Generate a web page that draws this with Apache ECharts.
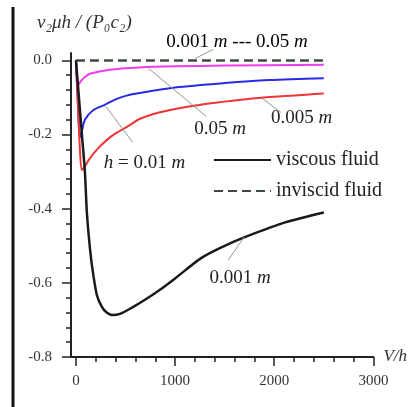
<!DOCTYPE html>
<html>
<head>
<meta charset="utf-8">
<script src="https://cdn.jsdelivr.net/npm/echarts@6/dist/echarts.min.js"></script>
<style>
  html, body { margin: 0; padding: 0; background: #fff; }
  #chart { width: 410px; height: 407px; }
</style>
</head>
<body>
<div id="chart"></div>
<script>
// V/h, value pairs
const viscous001 = [[0, 0], [30, -0.1], [60, -0.2], [90, -0.3], [110, -0.41], [135, -0.49], [160, -0.55], [210, -0.632], [260, -0.664], [310, -0.68], [370, -0.687], [450, -0.683], [570, -0.666], [700, -0.645], [840, -0.62], [1000, -0.588], [1270, -0.532], [1500, -0.5], [1710, -0.476], [2110, -0.437], [2500, -0.41]];
const viscous0005 = [[0, 0], [20, -0.12], [40, -0.24], [60, -0.296], [90, -0.285], [140, -0.264], [220, -0.238], [310, -0.215], [400, -0.197], [540, -0.175], [640, -0.158], [800, -0.143], [1000, -0.131], [1240, -0.12], [1600, -0.108], [1950, -0.099], [2500, -0.089]];
const viscous001b = [[0, 0], [20, -0.12], [40, -0.207], [60, -0.19], [90, -0.16], [170, -0.135], [290, -0.12], [400, -0.105], [510, -0.095], [640, -0.088], [1000, -0.073], [1500, -0.061], [1950, -0.053], [2500, -0.048]];
const viscous005 = [[0, 0], [10, -0.04], [25, -0.065], [50, -0.056], [90, -0.045], [140, -0.036], [340, -0.025], [640, -0.019], [1000, -0.016], [1500, -0.014], [2500, -0.012]];
const inviscid = [[0, 0], [2500, 0]];

const xTicks = [0, 1000, 2000, 3000];
const xMinorTicks = [0, 200, 400, 600, 800, 1000, 1200, 1400, 1600, 1800, 2000, 2200, 2400, 2600, 2800, 3000];
const yTicks = [-0.8, -0.6, -0.4, -0.2, 0];
const yMinorTicks = [-0.8, -0.76, -0.72, -0.68, -0.64, -0.6, -0.56, -0.52, -0.48, -0.44, -0.4, -0.36, -0.32, -0.28, -0.24, -0.2, -0.16, -0.12, -0.08, -0.04, 0];

// 注释文字: [V/h, value, text]
const noteLabels = [
  [1454, -0.186, '{n|0.05 }{i|m}'],
  [2277, -0.156, '{n|0.005 }{i|m}'],
  [692, -0.277, '{i|h}{n| = 0.01 }{i|m}'],
  [1655, -0.587, '{n|0.001 }{i|m}']
];
// 引线: [from, to]
const noteLines = [
  [[732, -0.0215], [1314, -0.151]],
  [[1876, -0.102], [2066, -0.140]],
  [[301, -0.124], [572, -0.221]],
  [[1695, -0.477], [1535, -0.539]]
];
// 图上方的注释 (超出 y 轴范围)
const topLabel = [1625, 0.0485, '{n|0.001 }{i|m}{n| --- 0.05 }{i|m}'];
const topLine = [[1384, 0.0296], [1204, 0.0054]];

const serif = '"Liberation Serif", "DejaVu Serif", serif';
const axisColor = '#222';
const noteRich = {
  n: { fontFamily: serif, fontSize: 19, color: '#222' },
  i: { fontFamily: serif, fontSize: 19, fontStyle: 'italic', color: '#222' }
};

const chart = echarts.init(document.getElementById('chart'));

const option = {
  animation: false,
  grid: { left: 71, right: 35, top: 53, bottom: 50 },
  legend: {
    data: ['viscous fluid', 'inviscid fluid'],
    orient: 'vertical',
    left: 213,
    top: 150,
    padding: 0,
    itemWidth: 57,
    itemHeight: 12,
    itemGap: 11,
    itemStyle: { opacity: 0 },
    textStyle: { fontFamily: serif, fontSize: 20, lineHeight: 20, color: '#222' }
  },
  xAxis: [
    {
      type: 'value',
      min: -50,
      max: 3000,
      name: 'V/h',
      nameLocation: 'end',
      nameGap: 10,
      nameTextStyle: { fontFamily: serif, fontStyle: 'italic', fontSize: 17, color: '#333' },
      splitLine: { show: false },
      axisLine: { onZero: false, lineStyle: { color: axisColor, width: 2 } },
      axisTick: { customValues: xTicks, length: 9, lineStyle: { color: axisColor, width: 1.5 } },
      axisLabel: { customValues: xTicks, margin: 17, fontFamily: serif, fontSize: 15, color: '#333', formatter: v => String(v) }
    },
    {
      type: 'value',
      min: -50,
      max: 3000,
      position: 'bottom',
      splitLine: { show: false },
      axisLine: { show: false, onZero: false },
      axisTick: { customValues: xMinorTicks, length: 5, lineStyle: { color: axisColor, width: 1.5 } },
      axisLabel: { show: false }
    }
  ],
  yAxis: [
    {
      type: 'value',
      min: -0.8,
      max: 0.02,
      splitLine: { show: false },
      axisLine: { show: true, onZero: false, lineStyle: { color: axisColor, width: 2 } },
      axisTick: { show: true, customValues: yTicks, length: 9, lineStyle: { color: axisColor, width: 1.5 } },
      axisLabel: {
        customValues: yTicks,
        margin: 19,
        fontFamily: serif,
        fontSize: 15,
        color: '#333',
        formatter: v => v.toFixed(1)
      }
    },
    {
      type: 'value',
      min: -0.8,
      max: 0.02,
      position: 'left',
      splitLine: { show: false },
      axisLine: { show: false, onZero: false },
      axisTick: { show: true, customValues: yMinorTicks, length: 5, lineStyle: { color: axisColor, width: 1.5 } },
      axisLabel: { show: false }
    }
  ],
  series: [
    {
      name: 'inviscid fluid',
      type: 'line',
      data: inviscid,
      symbol: 'none',
      lineStyle: { color: '#3f4a3f', width: 2.5, type: [9, 5] },
      itemStyle: { color: '#3f4a3f' },
      z: 3
    },
    {
      name: '0.05 m',
      type: 'line',
      data: viscous005,
      symbol: 'none',
      smooth: 0.3,
      lineStyle: { color: '#ee3cee', width: 2 }
    },
    {
      name: '0.01 m',
      type: 'line',
      data: viscous001b,
      symbol: 'none',
      smooth: 0.3,
      lineStyle: { color: '#2a2ae6', width: 2 }
    },
    {
      name: '0.005 m',
      type: 'line',
      data: viscous0005,
      symbol: 'none',
      smooth: 0.3,
      lineStyle: { color: '#ee3434', width: 2 }
    },
    {
      name: 'viscous fluid',
      type: 'line',
      data: viscous001,
      symbol: 'none',
      smooth: 0.3,
      lineStyle: { color: '#1a1a1a', width: 2.5 },
      itemStyle: { color: '#1a1a1a' },
      z: 4
    },
    {
      name: 'notes',
      type: 'line',
      data: [],
      clip: false,
      silent: true,
      markLine: {
        symbol: 'none',
        silent: true,
        animation: false,
        label: { show: false },
        lineStyle: { color: '#8c9a84', width: 1, type: 'solid' },
        data: noteLines.map(p => [{ coord: p[0] }, { coord: p[1] }])
      },
      markPoint: {
        symbol: 'circle',
        symbolSize: 0,
        silent: true,
        animation: false,
        label: {
          show: true,
          position: 'inside',
          formatter: p => p.data.text,
          rich: noteRich
        },
        data: noteLabels.map(d => ({ coord: [d[0], d[1]], text: d[2] }))
      }
    }
  ]
};

chart.setOption(option);

// 轴外的元素: 左边框, y 轴标题, 顶部注释
const tl0 = chart.convertToPixel({ gridIndex: 0 }, topLine[0]);
const tl1 = chart.convertToPixel({ gridIndex: 0 }, topLine[1]);
const tp = chart.convertToPixel({ gridIndex: 0 }, [topLabel[0], topLabel[1]]);

chart.setOption({
  graphic: [
    {
      type: 'line',
      shape: { x1: 13, y1: 7, x2: 13, y2: 407 },
      style: { stroke: '#111', lineWidth: 3 }
    },
    {
      type: 'text',
      left: 37,
      top: 13,
      style: {
        text: 'v₂μh / (P₀c₂)',
        font: 'italic 19px ' + serif,
        fill: '#333'
      }
    },
    {
      type: 'line',
      shape: { x1: tl0[0], y1: tl0[1], x2: tl1[0], y2: tl1[1] },
      style: { stroke: '#8c9a84', lineWidth: 1 }
    },
    {
      type: 'text',
      x: tp[0],
      y: tp[1],
      style: {
        text: topLabel[2],
        align: 'center',
        verticalAlign: 'middle',
        rich: noteRich
      }
    }
  ]
});
</script>
</body>
</html>
